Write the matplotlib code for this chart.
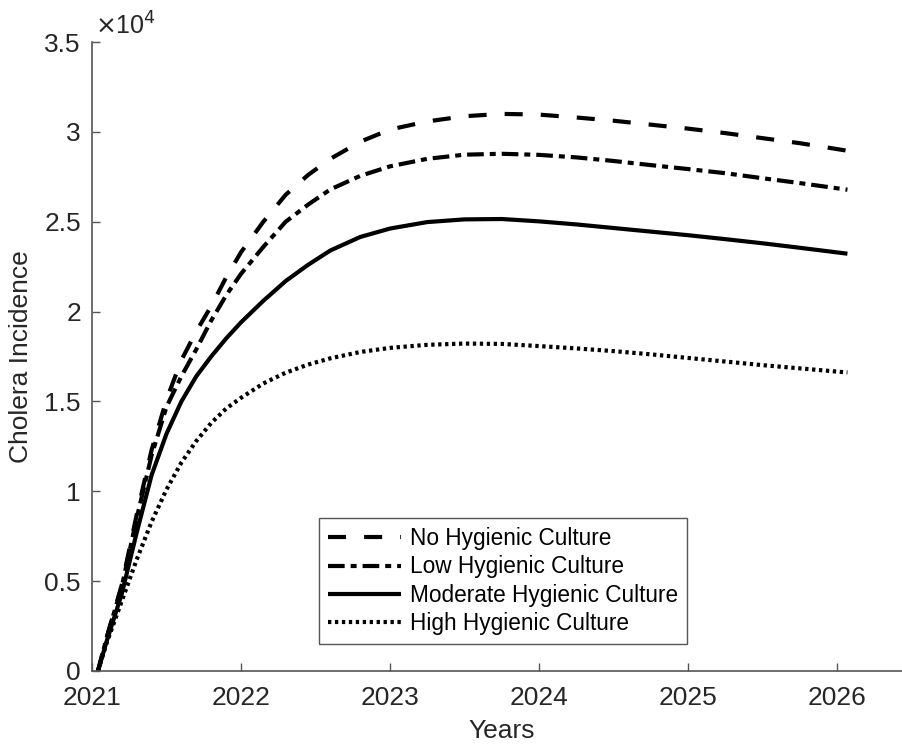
import matplotlib
matplotlib.use("Agg")
import matplotlib.pyplot as plt
from matplotlib.ticker import FixedLocator

plt.rcParams['font.family'] = ['Liberation Sans', 'DejaVu Sans']
plt.rcParams['lines.scale_dashes'] = False

years = [2021.04, 2021.1, 2021.2, 2021.3, 2021.4, 2021.5, 2021.6, 2021.7, 2021.8, 2021.9,
         2022.0, 2022.15, 2022.3, 2022.45, 2022.6, 2022.8, 2023.0, 2023.25, 2023.5, 2023.75,
         2024.0, 2024.25, 2024.5, 2024.75, 2025.0, 2025.25, 2025.5, 2025.75, 2026.07]

no_hygiene = [0, 1900, 4800, 8700, 12300, 15100, 17300, 18900, 20300, 21900,
              23300, 25000, 26500, 27600, 28500, 29450, 30130, 30580, 30870, 31000,
              30960, 30800, 30620, 30400, 30180, 29930, 29650, 29370, 28950]
low_hygiene = [0, 1900, 4700, 8500, 12000, 14700, 16400, 17900, 19500, 20900,
               22100, 23600, 25000, 25950, 26800, 27550, 28080, 28500, 28730, 28780,
               28720, 28580, 28380, 28150, 27930, 27700, 27420, 27150, 26780]
moderate_hygiene = [0, 1700, 4300, 7700, 10900, 13200, 15000, 16400, 17500, 18500,
                    19400, 20600, 21700, 22600, 23400, 24150, 24620, 24980, 25130, 25150,
                    25020, 24850, 24650, 24450, 24250, 24030, 23800, 23550, 23220]
high_hygiene = [0, 1600, 3900, 6200, 8300, 10100, 11600, 12800, 13800, 14600,
                15200, 16000, 16600, 17050, 17400, 17750, 17980, 18150, 18220, 18200,
                18080, 17950, 17800, 17620, 17420, 17220, 17020, 16840, 16610]

labels = ['No Hygienic Culture', 'Low Hygienic Culture',
          'Moderate Hygienic Culture', 'High Hygienic Culture']
x_ticks = [2021, 2022, 2023, 2024, 2025, 2026]
y_ticks = [0, 5000, 10000, 15000, 20000, 25000, 30000, 35000]
y_tick_labels = ['0', '0.5', '1', '1.5', '2', '2.5', '3', '3.5']

W, H = 902, 751
fig = plt.figure(figsize=(W / 100, H / 100), dpi=100)
ax_left, ax_right, ax_top, ax_bottom = 92, 911.5, 42, 671
ax = fig.add_axes([ax_left / W, (H - ax_bottom) / H,
                   (ax_right - ax_left) / W, (ax_bottom - ax_top) / H])

lw = 3.0
styles = [
    dict(linestyle=(0, (13, 13))),
    dict(linestyle=(0, (12, 4.3, 4.3, 4.3))),
    dict(linestyle='-'),
    dict(linestyle=(0, (2.4, 2.6))),
]
series = [no_hygiene, low_hygiene, moderate_hygiene, high_hygiene]
handles = []
for s, st, lab in zip(series, styles, labels):
    h, = ax.plot(years, s, color='black', linewidth=lw, label=lab,
                 dash_capstyle='butt', solid_capstyle='butt', **st)
    handles.append(h)

ax.set_xlim(2021, 2026.5)
ax.set_ylim(0, 35000)
ax.xaxis.set_major_locator(FixedLocator(x_ticks))
ax.set_xticklabels([str(v) for v in x_ticks])
ax.yaxis.set_major_locator(FixedLocator(y_ticks))
ax.set_yticklabels(y_tick_labels)

axcol = '#262626'
for side in ['top', 'right']:
    ax.spines[side].set_visible(False)
for side in ['left', 'bottom']:
    ax.spines[side].set_color('#555555')
    ax.spines[side].set_linewidth(1.2)
ax.tick_params(axis='both', direction='in', length=5.8, width=1.0, color='#555555',
               labelsize=19, labelcolor=axcol)
ax.tick_params(axis='x', pad=11)
ax.tick_params(axis='y', pad=8)

ax.set_xlabel('Years', fontsize=19, color=axcol, labelpad=6)
ax.set_ylabel('Cholera Incidence', fontsize=19, color=axcol, labelpad=8)

fig.text(95 / W, (H - 35) / H, r'$\times$10$^{4}$', fontsize=18, color=axcol,
         ha='left', va='baseline')

leg = fig.legend(handles=handles, labels=labels, loc='upper left',
                 bbox_to_anchor=(319 / W, (H - 518) / H),
                 bbox_transform=fig.transFigure,
                 fontsize=16.3, frameon=True, fancybox=False, shadow=False,
                 framealpha=1, edgecolor='#555555', handlelength=3.2,
                 handletextpad=0.4, labelspacing=0.24, borderpad=0.4,
                 borderaxespad=0)
leg.get_frame().set_linewidth(1.0)
for t in leg.get_texts():
    t.set_color('black')

fig.savefig('out.png', dpi=100)
